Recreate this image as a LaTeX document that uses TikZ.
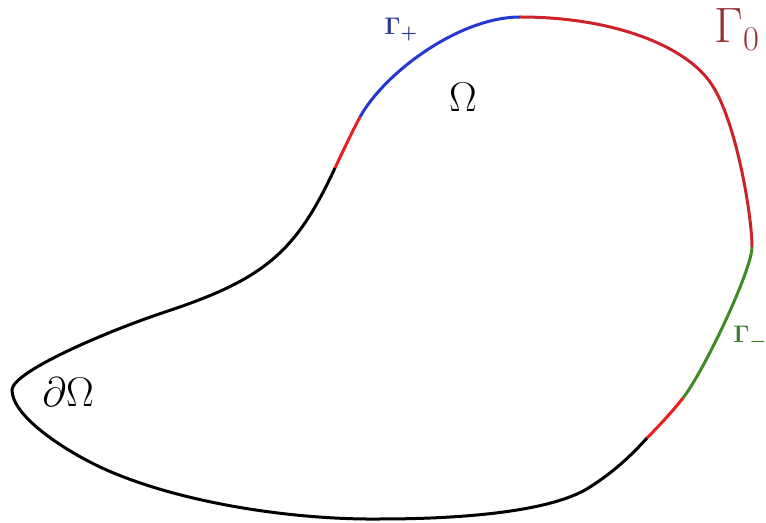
\documentclass[tikz,border=0pt]{standalone}
\usepackage{amsmath,amssymb}
\usepackage{bm}
\usepackage{tikz}
\definecolor{inblue}  {RGB}{35,55,210}
\definecolor{zerored} {RGB}{205,35,40}
\definecolor{cutred}  {RGB}{235,30,30}
\definecolor{outgreen}{RGB}{60,140,35}
\definecolor{lblblue} {RGB}{45,55,150}
\definecolor{lblred}  {RGB}{150,50,50}
\definecolor{lblgreen}{RGB}{60,125,40}
\tikzset{
  bnd/.style    ={line width=1.5pt},
  inflow/.style ={bnd, draw=inblue},
  noflow/.style ={bnd, draw=zerored},
  gap/.style    ={bnd, draw=cutred},
  outflow/.style={bnd, draw=outgreen},
  rest/.style   ={bnd, draw=black},
  lbl/.style    ={inner sep=0pt, anchor=base west},
  biglbl/.style ={lbl, font=\fontsize{20}{24}\selectfont},
  sublbl/.style ={lbl, font=\fontsize{13}{15}\selectfont},
}

\begin{document}
\begin{tikzpicture}[x=0.5pt,y=-0.5pt]
  \useasboundingbox (0,0) rectangle (766,523);
  % junctions of the boundary pieces
  \coordinate (A) at (520,17);
  \coordinate (M) at (712,85);
  \coordinate (B) at (752,247);
  \coordinate (C) at (683,398);
  \coordinate (D) at (647,438);
  \coordinate (G) at (590,487);
  \coordinate (F) at (380,519);
  \coordinate (I) at (100,467);
  \coordinate (H) at (12,390);
  \coordinate (J) at (165,312);
  \coordinate (E) at (335,168);
  \coordinate (K) at (360,117);

  \draw[noflow] (A) .. controls (615,17) and (688,47) .. (M)
                    .. controls (736,121) and (752,215) .. (B);
  \draw[outflow] (B) .. controls (752,270) and (704,371) .. (C);
  \draw[gap] (C) .. controls (672,412) and (657,428) .. (D);
  \draw[rest] (D) .. controls (630,457) and (612,473) .. (G)
                  .. controls (552,512) and (460,519) .. (F)
                  .. controls (290,520) and (175,502) .. (I)
                  .. controls (60,448) and (12,415) .. (H)
                  .. controls (12,372) and (105,332) .. (J)
                  .. controls (265,279) and (296,252) .. (E);
  \draw[gap] (E) .. controls (343,151) and (352,132) .. (K);
  \draw[inflow] (K) .. controls (385,72) and (460,17) .. (A);

  \node[sublbl, text=lblblue] (gplus) at (384,35) {$\bm{\Gamma_{+}}$};
  \node[biglbl, anchor=base] (dom) at (463,112) {$\Omega$};
  \node[lbl, font=\fontsize{25}{30}\selectfont, text=lblred] (gzero) at (714,43) {$\Gamma_0$};
  \node[sublbl, text=lblgreen] (gminus) at (733,343) {$\bm{\Gamma_{-}}$};
  \node[biglbl] (bdom) at (42,407) {$\partial\Omega$};
\end{tikzpicture}
\end{document}
